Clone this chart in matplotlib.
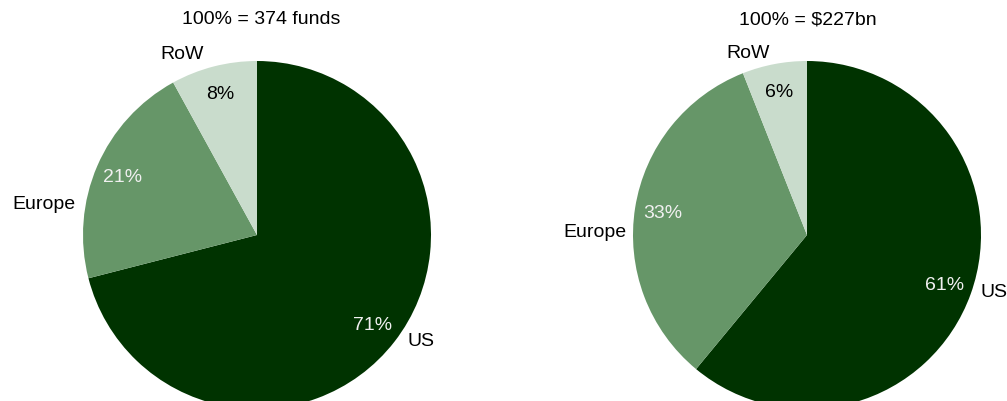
import numpy as np
import matplotlib
matplotlib.use("Agg")
import matplotlib.pyplot as plt

# regional split of funds: count vs. assets
regions = ['US', 'Europe', 'RoW']
share_funds = [71, 21, 8]
share_assets = [61, 33, 6]
titles = ['100% = 374 funds', '100% = $227bn']

colors = ['#003300', '#669668', '#c9dccc']
pct_colors = ['#f0f0f0', '#f0f0f0', 'black']

plt.rcParams['font.family'] = ['Liberation Sans', 'DejaVu Sans']

fig = plt.figure(figsize=(10.07, 4.02), dpi=100)
W, H = 1007, 402
R = 174

# (centre x, centre y from top) in pixels, plus label offsets (deg, radius)
layouts = [
    (257, 236, {'US': (5, 1.12), 'Europe': (15, 1.24), 'RoW': (8, 1.13)}),
    (807, 236, {'US': (3, 1.12), 'Europe': (8, 1.22), 'RoW': (7, 1.10)}),
]
title_x = [261, 808]

for (cx, cy, lab), vals, title, tx in zip(layouts, [share_funds, share_assets], titles, title_x):
    ax = fig.add_axes([(cx - R) / W, (H - cy - R) / H, 2 * R / W, 2 * R / H])
    wedges, _, pcts = ax.pie(vals, colors=colors, startangle=90, counterclock=False,
                             autopct='%d%%', pctdistance=0.84, radius=1,
                             textprops=dict(fontsize=14))
    for t, c in zip(pcts, pct_colors):
        t.set_color(c)
    for w, name in zip(wedges, regions):
        mid = np.radians((w.theta1 + w.theta2) / 2 + lab[name][0])
        r = lab[name][1]
        ax.text(r * np.cos(mid), r * np.sin(mid), name, ha='center', va='center',
                fontsize=14, color='black')
    ax.set_xlim(-1, 1)
    ax.set_ylim(-1, 1)
    ax.set_aspect('equal')
    ax.axis('off')
    fig.text(tx / W, 1 - 20 / H, title, ha='center', va='center', fontsize=14)

fig.savefig('out.png', dpi=100)
